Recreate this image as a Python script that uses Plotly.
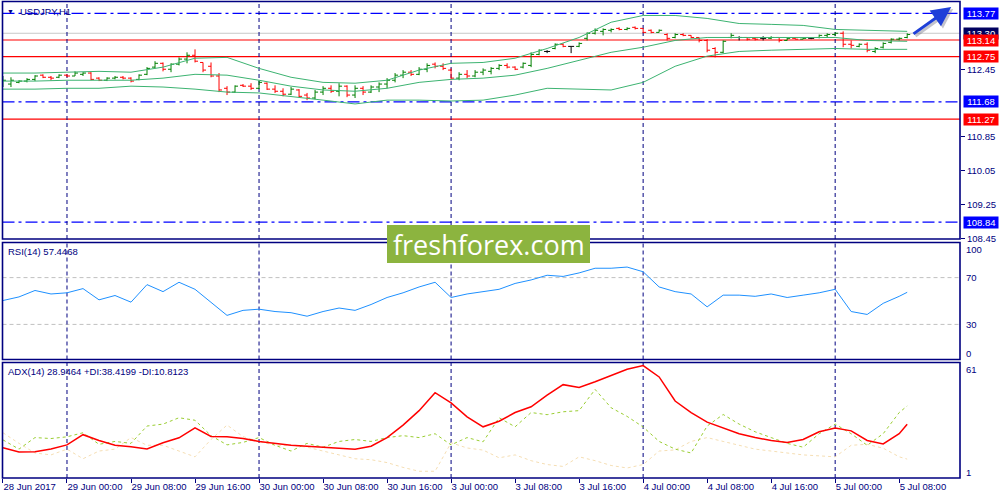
import plotly.graph_objects as go

# ---------------- data ----------------
symbol_label = "USDJPY,H1"
rsi_label = "RSI(14) 57.4468"
adx_label = "ADX(14) 28.9464 +DI:38.4199 -DI:10.8123"

tick_bars = [0, 8, 16, 24, 32, 40, 48, 56, 64, 72, 80, 88, 96, 104, 112]
tick_labels = ["28 Jun 2017", "29 Jun 00:00", "29 Jun 08:00", "29 Jun 16:00",
               "30 Jun 00:00", "30 Jun 08:00", "30 Jun 16:00", "3 Jul 00:00",
               "3 Jul 08:00", "3 Jul 16:00", "4 Jul 00:00", "4 Jul 08:00",
               "4 Jul 16:00", "5 Jul 00:00", "5 Jul 08:00"]
day_starts = [8, 32, 56, 80, 104]

price_ticks = [112.45, 110.85, 110.05, 109.25, 108.45]
blue_levels = [113.77, 111.68, 108.84]
red_levels = [113.14, 112.75, 111.27]
bid_price = 113.30

bar_open = [
    112.07, 112.10, 112.14, 112.17, 112.21, 112.31, 112.26, 112.26, 112.31, 112.29,
    112.33, 112.36, 112.24, 112.19, 112.24, 112.26, 112.24, 112.21, 112.33, 112.50,
    112.59, 112.45, 112.57, 112.69, 112.78, 112.61, 112.52, 112.29, 112.00, 111.91,
    112.07, 112.05, 112.00, 112.12, 111.98, 111.93, 111.86, 111.96, 111.84, 111.77,
    111.91, 112.00, 111.93, 112.05, 111.84, 112.00, 111.91, 112.03, 112.10, 112.19,
    112.31, 112.38, 112.33, 112.45, 112.57, 112.52, 112.43, 112.24, 112.33, 112.29,
    112.38, 112.40, 112.47, 112.54, 112.50, 112.50, 112.54, 112.80, 112.87, 112.94,
    113.04, 112.99, 112.99, 113.18, 113.30, 113.345, 113.37, 113.415, 113.39, 113.44,
    113.415, 113.37, 113.32, 113.27, 113.20, 113.27, 113.25, 113.20, 113.13, 112.94,
    112.85, 113.20, 113.20, 113.20, 113.18, 113.18, 113.18, 113.20, 113.13, 113.18,
    113.16, 113.18, 113.20, 113.25, 113.27, 113.30, 113.04, 112.99, 113.04, 112.87,
    112.97, 113.085, 113.16, 113.20]
bar_high = [
    112.29, 112.26, 112.19, 112.24, 112.31, 112.33, 112.29, 112.33, 112.33, 112.40,
    112.38, 112.38, 112.26, 112.26, 112.29, 112.29, 112.26, 112.33, 112.50, 112.64,
    112.61, 112.59, 112.73, 112.85, 112.92, 112.61, 112.61, 112.36, 112.05, 112.07,
    112.10, 112.12, 112.19, 112.14, 112.07, 112.00, 112.03, 111.98, 111.89, 111.96,
    112.05, 112.07, 112.12, 112.07, 112.07, 112.05, 112.07, 112.14, 112.24, 112.36,
    112.43, 112.43, 112.50, 112.59, 112.61, 112.59, 112.47, 112.38, 112.43, 112.43,
    112.47, 112.50, 112.57, 112.59, 112.52, 112.61, 112.85, 112.92, 112.90, 113.06,
    113.06, 112.99, 113.085, 113.32, 113.415, 113.415, 113.415, 113.44, 113.44, 113.46,
    113.415, 113.39, 113.39, 113.30, 113.30, 113.30, 113.25, 113.20, 113.16, 112.97,
    113.13, 113.30, 113.23, 113.20, 113.20, 113.23, 113.23, 113.20, 113.20, 113.20,
    113.20, 113.20, 113.27, 113.30, 113.32, 113.345, 113.13, 113.06, 113.085, 112.97,
    113.085, 113.18, 113.20, 113.30]
bar_low = [
    112.03, 112.03, 112.12, 112.14, 112.17, 112.24, 112.19, 112.24, 112.26, 112.29,
    112.29, 112.19, 112.17, 112.17, 112.21, 112.21, 112.14, 112.19, 112.31, 112.47,
    112.40, 112.38, 112.54, 112.59, 112.61, 112.38, 112.26, 111.91, 111.84, 111.89,
    112.03, 111.96, 111.98, 111.96, 111.89, 111.81, 111.84, 111.79, 111.72, 111.74,
    111.84, 111.89, 111.81, 111.79, 111.77, 111.84, 111.89, 111.91, 112.00, 112.14,
    112.24, 112.29, 112.31, 112.38, 112.47, 112.43, 112.19, 112.19, 112.24, 112.26,
    112.31, 112.33, 112.43, 112.47, 112.43, 112.47, 112.50, 112.78, 112.83, 112.92,
    112.97, 112.83, 112.97, 113.13, 113.27, 113.25, 113.32, 113.37, 113.37, 113.39,
    113.30, 113.30, 113.32, 113.13, 113.18, 113.23, 113.18, 113.085, 112.85, 112.73,
    112.83, 113.18, 113.13, 113.13, 113.13, 113.13, 113.16, 113.085, 113.13, 113.16,
    113.16, 113.16, 113.18, 113.20, 113.23, 112.97, 112.94, 112.97, 112.85, 112.83,
    112.94, 113.06, 113.13, 113.18]
bar_close = [
    112.19, 112.19, 112.17, 112.21, 112.29, 112.26, 112.24, 112.31, 112.29, 112.36,
    112.36, 112.21, 112.19, 112.24, 112.26, 112.24, 112.17, 112.31, 112.47, 112.59,
    112.45, 112.57, 112.69, 112.78, 112.64, 112.43, 112.29, 111.96, 111.91, 112.05,
    112.05, 112.00, 112.14, 111.98, 111.93, 111.86, 111.98, 111.81, 111.77, 111.91,
    112.00, 111.93, 112.05, 111.84, 112.00, 111.91, 112.03, 112.10, 112.19, 112.31,
    112.38, 112.33, 112.45, 112.54, 112.52, 112.47, 112.24, 112.33, 112.29, 112.38,
    112.43, 112.47, 112.54, 112.50, 112.45, 112.59, 112.80, 112.90, 112.87, 113.04,
    112.99, 112.99, 113.06, 113.30, 113.37, 113.39, 113.39, 113.39, 113.415, 113.415,
    113.32, 113.32, 113.37, 113.18, 113.27, 113.25, 113.20, 113.13, 112.90, 112.85,
    113.11, 113.25, 113.20, 113.16, 113.16, 113.18, 113.20, 113.13, 113.18, 113.16,
    113.18, 113.18, 113.25, 113.27, 113.30, 113.04, 113.015, 113.04, 112.90, 112.94,
    113.06, 113.16, 113.18, 113.27]

bb_x = [0, 4, 8, 12, 16, 20, 24, 28, 32, 36, 40, 44, 48, 52, 56, 60, 64, 68, 72,
        76, 80, 84, 88, 92, 96, 100, 104, 108, 112, 113]
bb_upper = [112.36, 112.36, 112.38, 112.40, 112.38, 112.50, 112.71, 112.73, 112.47, 112.26,
            112.14, 112.12, 112.19, 112.43, 112.59, 112.61, 112.71, 112.94, 113.20, 113.56,
            113.72, 113.72, 113.65, 113.53, 113.51, 113.485, 113.39, 113.37, 113.345, 113.345]
bb_middle = [112.17, 112.17, 112.19, 112.19, 112.19, 112.24, 112.33, 112.31, 112.19, 112.05,
             111.96, 111.93, 112.00, 112.14, 112.21, 112.24, 112.31, 112.47, 112.66, 112.85,
             112.97, 113.13, 113.20, 113.20, 113.20, 113.20, 113.20, 113.13, 113.11, 113.11]
bb_lower = [111.98, 111.98, 112.00, 112.00, 112.05, 112.03, 111.98, 111.91, 111.89, 111.81,
            111.72, 111.63, 111.72, 111.72, 111.70, 111.72, 111.84, 112.00, 111.98, 111.96,
            112.14, 112.52, 112.76, 112.87, 112.90, 112.92, 112.94, 112.92, 112.92, 112.92]

ind_x = list(range(0, 113, 2)) + [113]
rsi = [50.4, 53.5, 59, 56, 57, 60.6, 51, 54.7, 49, 64, 58, 66, 60, 48.5, 37.7, 42, 43, 41,
       40, 37, 41, 44, 42, 47, 53, 57, 62, 66, 53, 56, 58, 60, 65, 68, 72, 71, 74, 78, 78,
       79, 75, 62, 58, 56, 45, 55, 55, 54, 56, 53, 55, 57, 60, 41, 38.5, 48, 54, 57.4468]
adx = [16.7, 14.5, 14.6, 16.1, 18.2, 23.5, 20.5, 18, 17.2, 16.1, 19.3, 21.9, 27.1, 22.6,
       22.4, 21.5, 20, 19, 18, 17.5, 17, 16.5, 16, 17.5, 22, 28.5, 36, 45.3, 40, 32.8, 27.6,
       30.5, 35, 38, 44, 49.5, 48, 51, 54.3, 57.5, 59.4, 53.5, 41, 35, 30, 27, 24, 22, 20.5,
       19.5, 21, 25, 27, 25.5, 20.5, 18.7, 24, 28.9464]
plus_di = [20.8, 16, 22, 21.5, 22.4, 24.5, 18.5, 20, 19, 28, 29, 32.3, 31, 23, 18.2, 19.5,
           22, 18, 15, 19, 17, 20, 21, 20, 22, 23, 22, 24, 18.2, 22, 19.8, 32.3, 27.6, 35,
           33.9, 35.4, 36, 47, 37.5, 33, 27.5, 20, 16, 14, 28, 34, 29, 25, 22, 19, 17, 24,
           29, 24, 18, 24, 35, 38.4199]
minus_di = [24.5, 19, 14, 13, 16, 11, 15, 16, 22, 18, 18, 15, 12, 21, 28.5, 22.5, 20, 18,
            18, 17, 15, 13, 11, 10.5, 9, 6.5, 4.5, 4.5, 19.3, 16.6, 15.5, 11.5, 13, 10, 8,
            7, 12, 10, 7.5, 6.2, 8, 15, 15.6, 20, 22, 20, 18, 16, 15, 14, 13, 12.5, 12, 18,
            18.5, 16.5, 12, 10.8123]

rsi_levels = [70, 30]
rsi_ticks = [100, 70, 30, 0]
adx_ticks = [61, 1]

# ---------------- styling ----------------
NAVY = "#000080"
FONT = "Liberation Sans"
FS = 9.5
TW = 0.375  # open/close tick length in bar units

fig = go.Figure()

# OHLC bars, MT4 style
groups = {"up": ([], [], "#008000"), "down": ([], [], "#FF0000"), "flat": ([], [], "#000000")}
for i in range(len(bar_open)):
    o, h, l, c = bar_open[i], bar_high[i], bar_low[i], bar_close[i]
    key = "up" if c > o else ("down" if c < o else "flat")
    xs, ys, _ = groups[key]
    xs += [i, i, None, i - TW, i, None, i, i + TW, None]
    ys += [l, h, None, o, o, None, c, c, None]
for key, (xs, ys, col) in groups.items():
    fig.add_trace(go.Scatter(x=xs, y=ys, mode="lines", line=dict(color=col, width=1),
                             hoverinfo="skip", xaxis="x", yaxis="y"))

for band in (bb_upper, bb_middle, bb_lower):
    fig.add_trace(go.Scatter(x=bb_x, y=band, mode="lines", line=dict(color="#3CB371", width=1),
                             hoverinfo="skip", xaxis="x", yaxis="y"))

fig.add_trace(go.Scatter(x=ind_x, y=rsi, mode="lines", line=dict(color="#1E90FF", width=1),
                         xaxis="x", yaxis="y2"))

fig.add_trace(go.Scatter(x=ind_x, y=minus_di, mode="lines",
                         line=dict(color="#F5DEB3", width=1, dash="3px,3px"), xaxis="x", yaxis="y3"))
fig.add_trace(go.Scatter(x=ind_x, y=plus_di, mode="lines",
                         line=dict(color="#9ACD32", width=1, dash="3px,3px"), xaxis="x", yaxis="y3"))
fig.add_trace(go.Scatter(x=ind_x, y=adx, mode="lines", line=dict(color="#FF0000", width=1.5),
                         xaxis="x", yaxis="y3"))

shapes = []
# horizontal levels
shapes.append(dict(type="line", xref="x domain", x0=0, x1=1, yref="y", y0=bid_price, y1=bid_price,
                   line=dict(color="#C8C8C8", width=1), layer="below"))
for lv in red_levels:
    shapes.append(dict(type="line", xref="x domain", x0=0, x1=1, yref="y", y0=lv, y1=lv,
                       line=dict(color="#FF0000", width=1.2), layer="below"))
for lv in blue_levels:
    shapes.append(dict(type="line", xref="x domain", x0=0, x1=1, yref="y", y0=lv, y1=lv,
                       line=dict(color="#0000FF", width=1.2, dash="12px,4px,3px,4px"), layer="below"))
for lv in rsi_levels:
    shapes.append(dict(type="line", xref="x domain", x0=0, x1=1, yref="y2", y0=lv, y1=lv,
                       line=dict(color="#C0C0C0", width=1, dash="4px,3px"), layer="below"))
# day separators
for d in day_starts:
    for yr in ("y domain", "y2 domain", "y3 domain"):
        shapes.append(dict(type="line", xref="x", x0=d, x1=d, yref=yr, y0=0, y1=1,
                           line=dict(color=NAVY, width=1, dash="4px,3px"), layer="below"))
# panel frames
panels = [(0.522, 0.997), (0.281, 0.515), (0.044, 0.275)]
for y0, y1 in panels:
    shapes.append(dict(type="rect", xref="paper", yref="paper", x0=0.0025, x1=0.96, y0=y0, y1=y1,
                       line=dict(color=NAVY, width=1.6), fillcolor="rgba(0,0,0,0)", layer="above"))
# watermark box
shapes.append(dict(type="rect", xref="paper", yref="paper", x0=0.387, x1=0.590,
                   y0=1 - 263 / 500, y1=1 - 225 / 500, line=dict(width=0),
                   fillcolor="#8CB43F", layer="above"))

ann = []
# panel titles
ann.append(dict(xref="paper", yref="paper", x=0.005, y=1 - 11 / 500, xanchor="left", yanchor="middle",
                text="\u25BC", showarrow=False, font=dict(family=FONT, size=7, color=NAVY)))
ann.append(dict(xref="paper", yref="paper", x=0.0175, y=1 - 11 / 500, xanchor="left", yanchor="middle",
                text=symbol_label, showarrow=False, font=dict(family=FONT, size=FS, color=NAVY)))
ann.append(dict(xref="paper", yref="paper", x=0.006, y=1 - 251.5 / 500, xanchor="left", yanchor="middle",
                text=rsi_label, showarrow=False, font=dict(family=FONT, size=FS, color=NAVY)))
ann.append(dict(xref="paper", yref="paper", x=0.006, y=1 - 371.5 / 500, xanchor="left", yanchor="middle",
                text=adx_label, showarrow=False, font=dict(family=FONT, size=FS, color=NAVY)))

# right-side price boxes
def box(val, bg, text=None):
    return dict(xref="paper", yref="y", x=0.963, y=val, xanchor="left", yanchor="middle",
                text=text if text else f"{val:.2f}", showarrow=False, bgcolor=bg,
                width=33, height=10, borderpad=0.5, align="center",
                font=dict(family=FONT, size=FS, color="white"))

ann.append(box(bid_price, "#000060"))
for lv in blue_levels:
    ann.append(box(lv, "#0000FF"))
for lv in red_levels:
    ann.append(box(lv, "#FF0000"))

# indicator scale labels
for v in rsi_ticks:
    shift = -6.5 if v == 100 else (6.5 if v == 0 else 0)
    ann.append(dict(xref="paper", yref="y2", x=0.964, y=v, xanchor="left", yanchor="middle",
                    yshift=shift, text=str(v), showarrow=False,
                    font=dict(family=FONT, size=FS, color=NAVY)))
for v in adx_ticks:
    shift = -7 if v == adx_ticks[0] else 5.5
    ann.append(dict(xref="paper", yref="y3", x=0.964, y=v, xanchor="left", yanchor="middle",
                    yshift=shift, text=str(v), showarrow=False,
                    font=dict(family=FONT, size=FS, color=NAVY)))

# watermark text
ann.append(dict(xref="paper", yref="paper", x=0.4885, y=1 - 244 / 500, xanchor="center", yanchor="middle",
                text="freshforex.com", showarrow=False,
                font=dict(family="Open Sans", size=27, color="white")))

# forecast arrow (shadow + arrow)
ann.append(dict(xref="x", yref="y", axref="x", ayref="y", x=118.75, y=113.87, ax=113.85, ay=113.21,
                showarrow=True, arrowhead=2, arrowsize=1.3, arrowwidth=3,
                arrowcolor="rgba(90,90,110,0.35)", text=""))
ann.append(dict(xref="x", yref="y", axref="x", ayref="y", x=118.5, y=113.92, ax=113.6, ay=113.26,
                showarrow=True, arrowhead=2, arrowsize=1.3, arrowwidth=3,
                arrowcolor="#1E3FD8", text=""))

fig.update_layout(
    width=1000, height=500, margin=dict(l=0, r=0, t=0, b=0, autoexpand=False),
    paper_bgcolor="white", plot_bgcolor="white", showlegend=False,
    font=dict(family=FONT, size=FS, color=NAVY),
    xaxis=dict(domain=[0.0025, 0.96], range=[-0.06, 119.6], anchor="y3", showgrid=False,
               zeroline=False, tickmode="array", tickvals=tick_bars, ticktext=tick_labels,
               ticks="outside", ticklen=4, tickcolor=NAVY, tickwidth=1, automargin=False,
               ticklabelposition="outside right", showline=False,
               tickfont=dict(family=FONT, size=FS, color=NAVY)),
    yaxis=dict(domain=list(panels[0]), range=[108.44, 114.05], anchor="x", side="right",
               showgrid=False, zeroline=False, tickmode="array", tickvals=price_ticks,
               tickformat=".2f", ticks="outside", ticklen=4, tickcolor=NAVY, automargin=False,
               tickfont=dict(family=FONT, size=FS, color=NAVY)),
    yaxis2=dict(domain=list(panels[1]), range=[0, 100], anchor="x", showgrid=False,
                zeroline=False, showticklabels=False, automargin=False),
    yaxis3=dict(domain=list(panels[2]), range=[1, 61], anchor="x", showgrid=False,
                zeroline=False, showticklabels=False, automargin=False),
    shapes=shapes, annotations=ann,
)

fig.write_html("out.html", config={"displayModeBar": False},
               post_script="document.body.style.margin='0px';document.body.style.overflow='hidden';")
